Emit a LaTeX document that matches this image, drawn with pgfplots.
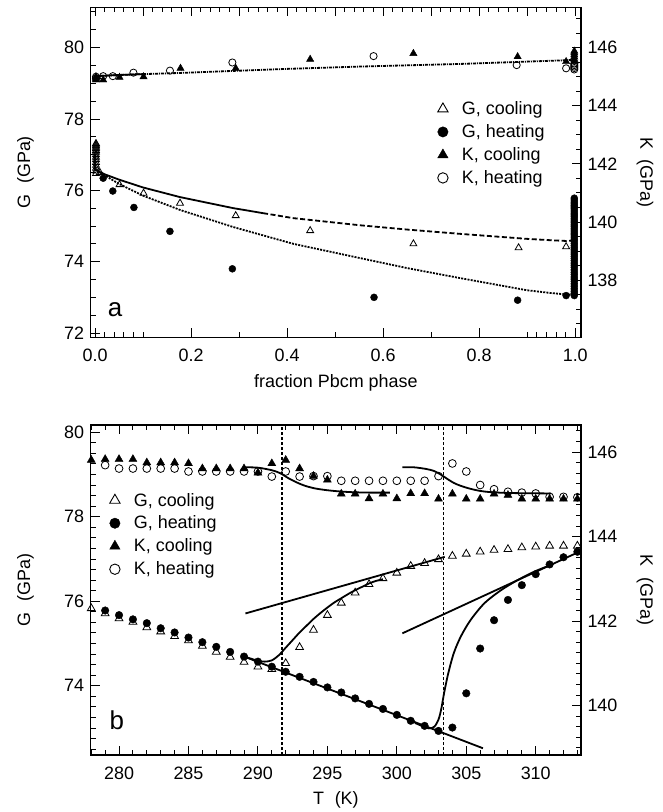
\documentclass[border=0pt]{standalone}
\usepackage{fontspec}
\setmainfont{Liberation Sans}
\usepackage{pgfplots}
\pgfplotsset{compat=1.18}
\newcommand\fs{\fontsize{18}{21}\selectfont}
\pgfplotsset{
  base/.style={scale only axis, width=490.3bp, height=330bp, clip=false,
    tick align=inside, major tick length=9bp, minor tick length=5bp,
    axis line style={line width=1.2bp},
    every tick/.append style={line width=0.9bp, black},
    tick label style={font=\fs}, label style={font=\fs},
    /pgf/number format/assume math mode=true},
  gc/.style={black, only marks, mark=triangle, mark size=4bp, mark options={line width=0.8bp}, forget plot},
  gh/.style={black, only marks, mark=*, mark size=3.5bp, forget plot},
  kc/.style={black, only marks, mark=triangle*, mark size=4.2bp, forget plot},
  kh/.style={black, only marks, mark=o, mark size=3.6bp, mark options={line width=0.8bp}, forget plot},
  fit/.style={black, line width=1.8bp, no marks, forget plot},
  leg/.style={legend style={draw=none, fill=none, font=\fs, inner sep=0pt, outer sep=0pt, row sep=4.5bp, nodes={inner sep=2bp}},
    legend cell align=left,
    legend image code/.code={\path[draw=none, fill=none] (0bp,0bp) (26bp,0bp); \draw[##1] plot coordinates {(9bp,0bp)};}},
}
\begin{document}
\begin{tikzpicture}
\useasboundingbox (0,0) rectangle (663bp,-812bp);
% ---------------- panel a ----------------
\begin{axis}[base, leg, at={(90.7bp,-7.3bp)}, anchor=north west,
  xmin=-0.009, xmax=1.012, ymin=71.88, ymax=81.13,
  xtick pos=left, ytick pos=left,
  xtick={0,0.2,0.4,0.6,0.8,1}, xticklabels={0.0,0.2,0.4,0.6,0.8,1.0},
  minor xtick={0.02,0.04,0.06,0.08,0.1,0.3,0.5,0.7,0.9,0.92,0.94,0.96,0.98},
  ytick={72,74,76,78,80},
  minor ytick={72.5,73,73.5,74.5,75,75.5,76.5,77,77.5,78.5,79,79.5,80.5,81},
  xticklabel style={yshift=-8bp}, yticklabel style={xshift=-3bp},
  xlabel={fraction Pbcm phase}, ylabel={G\hspace{0.6em}(GPa)},
  xlabel style={at={(axis description cs:0.5,-0.138)}, anchor=center},
  ylabel style={at={(axis description cs:-0.133,0.5)}, anchor=center},
  legend style={at={(rel axis cs:0.70,0.72)}, anchor=north west}]
\addlegendimage{black, only marks, mark=triangle, mark size=6bp, mark options={line width=0.9bp}}
\addlegendentry{G, cooling}
\addlegendimage{black, only marks, mark=*, mark size=5.2bp}
\addlegendentry{G, heating}
\addlegendimage{black, only marks, mark=triangle*, mark size=6bp}
\addlegendentry{K, cooling}
\addlegendimage{black, only marks, mark=o, mark size=5.2bp, mark options={line width=0.9bp}}
\addlegendentry{K, heating}
% fits
\addplot[fit] coordinates {(0,77.0) (0,76.58) (0.02,76.45) (0.05,76.3) (0.1,76.08) (0.177,75.81) (0.288,75.5) (0.35,75.36)};
\addplot[fit, dash pattern=on 5bp off 2.5bp] coordinates {(0.35,75.36) (0.413,75.22) (0.552,75.02) (0.65,74.9) (0.76,74.78) (0.899,74.64) (0.95,74.6) (0.982,74.58) (1.0,74.6)};
\addplot[fit, dash pattern=on 2bp off 1.2bp] coordinates {(0,76.58) (0.02,76.42) (0.05,76.18) (0.1,75.85) (0.177,75.45) (0.288,74.97) (0.413,74.5) (0.552,74.1) (0.65,73.82) (0.76,73.54) (0.899,73.2) (0.95,73.12) (0.982,73.08) (1.0,73.08)};
% G cooling
\addplot[gc] coordinates {(0.002,76.47) (0.002,76.54) (0.002,76.62) (0.002,76.70) (0.002,76.78) (0.002,76.86) (0.002,76.93) (0.002,77.00) (0.002,77.07) (0.002,77.12) (0.002,77.17) (0.002,77.21) (0.002,77.25) (0.002,77.29) (0.002,77.31)
 (0.010,76.50) (0.051,76.16) (0.101,75.92) (0.177,75.64) (0.293,75.29) (0.448,74.87) (0.663,74.50) (0.882,74.39) (0.981,74.42)};
% G heating
\addplot[gh] coordinates {(0.017,76.34) (0.037,75.98) (0.081,75.52) (0.156,74.85) (0.286,73.80) (0.581,73.00) (0.880,72.92) (0.981,73.05)
 (0.998,73.05) (0.998,73.11) (0.998,73.17) (0.998,73.24) (0.998,73.31) (0.998,73.38) (0.998,73.45) (0.998,73.51) (0.998,73.57) (0.998,73.64) (0.998,73.70) (0.998,73.77) (0.998,73.84) (0.998,73.90) (0.998,73.96) (0.998,74.03) (0.998,74.09) (0.998,74.15) (0.998,74.21) (0.998,74.27) (0.998,74.33) (0.998,74.39) (0.998,74.45) (0.998,74.51) (0.998,74.57) (0.998,74.63) (0.998,74.69) (0.998,74.75) (0.998,74.80) (0.998,74.86) (0.998,74.92) (0.998,74.98) (0.998,75.03) (0.998,75.09) (0.998,75.14) (0.998,75.20) (0.998,75.26) (0.998,75.31) (0.998,75.36) (0.998,75.42) (0.998,75.48) (0.998,75.53) (0.998,75.57) (0.998,75.62) (0.998,75.67) (0.998,75.73) (0.998,75.78)};
\node[font=\fontsize{26}{26}\selectfont] at (rel axis cs:0.0496,0.083) {a};
\end{axis}
\begin{axis}[base, at={(90.7bp,-7.3bp)}, anchor=north west,
  xmin=-0.009, xmax=1.012, ymin=136.03, ymax=147.39,
  axis x line*=top, axis y line*=right,
  xtick={0,0.1,0.2,0.3,0.4,0.5,0.6,0.7,0.8,0.9,1}, xticklabels={},
  minor x tick num=4,
  ytick={138,140,142,144,146},
  minor ytick={136.5,137,137.5,138.5,139,139.5,140.5,141,141.5,142.5,143,143.5,144.5,145,145.5,146.5,147},
  yticklabel style={xshift=3bp},
  ylabel={K\hspace{0.6em}(GPa)},
  ylabel style={at={(axis description cs:1.1305,0.5)}, anchor=center, rotate=180}]
\addplot[fit, dash pattern=on 3bp off 1bp on 1bp off 1bp] coordinates {(0,145.02) (0.05,145.06) (0.1,145.09) (0.177,145.13) (0.288,145.2) (0.4,145.27) (0.552,145.35) (0.76,145.44) (0.899,145.52) (1.0,145.58)};
\addplot[fit] coordinates {(0,145.02) (0.05,145.06) (0.1,145.09)};
\addplot[kc] coordinates {(0.002,144.89) (0.002,144.92) (0.002,144.96) (0.002,145.0) (0.017,144.89) (0.051,144.98) (0.101,145.0) (0.178,145.29) (0.293,145.29) (0.448,145.60) (0.663,145.80) (0.880,145.69) (0.981,145.52)
 (0.998,145.52) (0.998,145.6) (0.998,145.68) (0.998,145.75) (0.998,145.82) (0.998,145.88)};
\addplot[kh] coordinates {(0.002,144.95) (0.002,145.0) (0.017,145.02) (0.037,145.02) (0.080,145.14) (0.156,145.21) (0.286,145.49) (0.580,145.71) (0.878,145.40) (0.981,145.29)
 (0.998,145.25) (0.998,145.3) (0.998,145.35) (0.998,145.4) (0.998,145.45)};
\end{axis}
% ---------------- panel b ----------------
\begin{axis}[base, leg, at={(90.7bp,-425bp)}, anchor=north west,
  xmin=277.96, xmax=313.26, ymin=72.36, ymax=80.17,
  xtick pos=left, ytick pos=left,
  xtick={280,285,290,295,300,305,310},
  minor xtick={278,279,...,313},
  ytick={74,76,78,80},
  minor ytick={72.5,72.75,...,80},
  xticklabel style={yshift=-8bp}, yticklabel style={xshift=-3bp},
  xlabel={T\hspace{0.6em}(K)}, ylabel={G\hspace{0.6em}(GPa)},
  xlabel style={at={(axis description cs:0.5,-0.136)}, anchor=center},
  ylabel style={at={(axis description cs:-0.133,0.5)}, anchor=center},
  legend style={at={(rel axis cs:0.031,0.80)}, anchor=north west}]
\addlegendimage{black, only marks, mark=triangle, mark size=6bp, mark options={line width=0.9bp}}
\addlegendentry{G, cooling}
\addlegendimage{black, only marks, mark=*, mark size=5.2bp}
\addlegendentry{G, heating}
\addlegendimage{black, only marks, mark=triangle*, mark size=6bp}
\addlegendentry{K, cooling}
\addlegendimage{black, only marks, mark=o, mark size=5.2bp, mark options={line width=0.9bp}}
\addlegendentry{K, heating}
\addplot[fit, line width=1.5bp, dash pattern=on 3bp off 2bp] coordinates {(291.75,72.36) (291.75,80.17)};
\addplot[fit, line width=1.5bp, dash pattern=on 3bp off 2bp] coordinates {(303.35,72.36) (303.35,80.17)};
\addplot[fit] coordinates {(289,74.69) (306.2,72.52)};
\addplot[fit] coordinates {(289.1,75.71) (303.45,77.05)};
\addplot[fit] coordinates {(300.4,75.24) (313,77.15)};
\addplot[fit, smooth] coordinates {(289.0,74.69) (289.5,74.64) (290,74.59) (290.5,74.57) (291,74.60) (291.5,74.72) (292,74.90) (292.5,75.08) (293,75.26) (293.5,75.42) (294,75.58) (294.5,75.72) (295,75.85) (295.5,75.97) (296,76.07) (296.5,76.17) (297,76.26) (297.5,76.34) (298,76.42) (298.5,76.48) (299,76.52)};
\addplot[fit, smooth] coordinates {(301.3,73.12) (301.8,73.05) (302.3,72.99) (302.7,73.03) (303.0,73.20) (303.2,73.45) (303.4,73.82) (303.7,74.29) (304.1,74.77) (304.6,75.16) (305.3,75.55) (306.3,75.95) (307.5,76.26) (308.7,76.50) (309.9,76.70) (310.8,76.82)};
\addplot[gc, mark size=4.5bp] table {
278 75.83
279 75.71
280 75.59
281 75.51
282 75.38
283 75.28
284 75.17
285 75.07
286 74.94
287 74.80
288 74.68
289 74.56
290 74.45
291 74.39
292 74.53
293 74.91
294 75.32
295 75.67
296 75.96
297 76.20
298 76.40
299 76.54
300 76.67
301 76.83
302 76.90
303 76.99
304 77.07
305 77.12
306 77.17
307 77.21
308 77.23
309 77.27
310 77.29
311 77.31
312 77.31
313 77.31
};
\addplot[gh, mark size=3.8bp] table {
279 75.78
280 75.67
281 75.57
282 75.48
283 75.36
284 75.26
285 75.14
286 75.03
287 74.92
288 74.80
289 74.69
290 74.57
291 74.45
292 74.33
293 74.21
294 74.09
295 73.96
296 73.84
297 73.70
298 73.57
299 73.45
300 73.31
301 73.17
302 73.05
303 72.93
304 73.01
305 73.82
306 74.88
307 75.55
308 76.03
309 76.38
310 76.64
311 76.87
312 77.04
313 77.17
};
\node[font=\fontsize{26}{26}\selectfont] at (rel axis cs:0.0535,0.106) {b};
\end{axis}
\begin{axis}[base, at={(90.7bp,-425bp)}, anchor=north west,
  xmin=277.96, xmax=313.26, ymin=138.83, ymax=146.64,
  axis x line*=top, axis y line*=right,
  xtick={280,285,290,295,300,305,310}, xticklabels={},
  minor xtick={278,279,...,313},
  ytick={140,142,144,146},
  minor ytick={139,139.25,...,146.5},
  yticklabel style={xshift=3bp},
  ylabel={K\hspace{0.6em}(GPa)},
  ylabel style={at={(axis description cs:1.1305,0.5)}, anchor=center, rotate=180}]
\addplot[fit, smooth] coordinates {(289.1,145.64) (290,145.63) (291,145.57) (291.6,145.50) (292.2,145.38) (292.8,145.28) (293.4,145.20) (294.1,145.14) (294.9,145.10) (295.8,145.07) (296.8,145.05) (298,145.04) (299.5,145.04)};
\addplot[fit, smooth] coordinates {(300.4,145.64) (301.2,145.64) (302.1,145.60) (302.7,145.55) (303.2,145.46) (303.7,145.35) (304.1,145.27) (304.6,145.20) (305.3,145.13) (306.0,145.08) (306.8,145.05) (308.2,145.03) (311.1,145.02)};
\addplot[kc, mark size=4.6bp] table {
278 145.81
279 145.83
280 145.83
281 145.83
282 145.75
283 145.75
284 145.75
285 145.73
286 145.61
287 145.61
288 145.61
289 145.61
290 145.51
291 145.73
292 145.81
293 145.61
294 145.43
295 145.34
296 145.01
297 145.01
298 144.90
299 145.01
300 144.90
301 145.02
302 145.02
303 144.89
304 145.01
305 144.89
306 144.89
307 145.01
308 144.98
309 144.89
310 144.89
311 144.89
312 144.89
313 144.89
};
\addplot[kh, mark size=3.9bp] table {
279 145.69
280 145.61
281 145.61
282 145.61
283 145.61
284 145.61
285 145.54
286 145.54
287 145.54
288 145.54
289 145.54
290 145.54
291 145.42
292 145.54
293 145.42
294 145.43
295 145.43
296 145.32
297 145.32
298 145.32
299 145.32
300 145.32
301 145.32
302 145.32
303 145.43
304 145.73
305 145.54
306 145.22
307 145.12
308 145.06
309 145.04
310 145.02
311 144.94
312 144.94
313 144.93
};
\end{axis}
\end{tikzpicture}
\end{document}
